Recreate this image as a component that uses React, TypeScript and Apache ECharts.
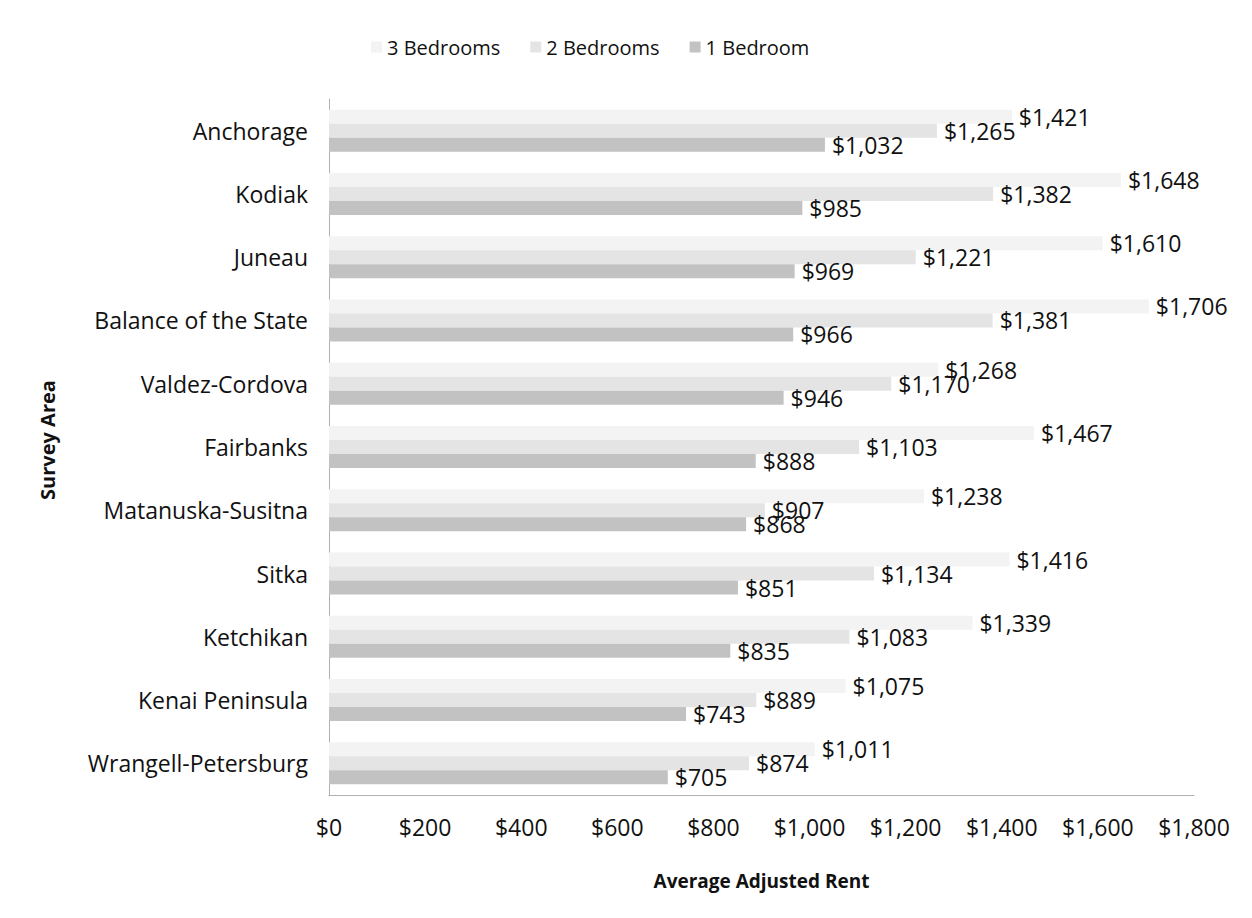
import React, { useEffect, useRef } from "react";
import * as echarts from "echarts";

const categories = [
  "Anchorage",
  "Kodiak",
  "Juneau",
  "Balance of the State",
  "Valdez-Cordova",
  "Fairbanks",
  "Matanuska-Susitna",
  "Sitka",
  "Ketchikan",
  "Kenai Peninsula",
  "Wrangell-Petersburg",
];
const threeBedrooms = [1421, 1648, 1610, 1706, 1268, 1467, 1238, 1416, 1339, 1075, 1011];
const twoBedrooms = [1265, 1382, 1221, 1381, 1170, 1103, 907, 1134, 1083, 889, 874];
const oneBedroom = [1032, 985, 969, 966, 946, 888, 868, 851, 835, 743, 705];
const seriesNames = ["3 Bedrooms", "2 Bedrooms", "1 Bedroom"];
const xTicks = [0, 200, 400, 600, 800, 1000, 1200, 1400, 1600, 1800];

const FONT = "'Open Sans', 'Noto Sans', sans-serif";
const fmt = (v: number) => "$" + v.toLocaleString("en-US");

export default function App() {
  const ref = useRef<HTMLDivElement>(null);
  useEffect(() => {
    if (!ref.current) return;
    const chart = echarts.init(ref.current, null, { renderer: "svg" });
    const colors = ["#f3f3f3", "#e4e4e4", "#c2c2c2"];
    const datasets = [threeBedrooms, twoBedrooms, oneBedroom];
    chart.setOption({
      animation: false,
      backgroundColor: "#ffffff",
      textStyle: { fontFamily: FONT },
      legend: {
        top: 32,
        left: 366,
        itemWidth: 11,
        itemHeight: 11,
        itemGap: 30,
        icon: "rect",
        textStyle: { fontSize: 20, color: "#111", fontFamily: FONT },
        data: seriesNames,
      },
      grid: { left: 329, right: 58, top: 99, bottom: 123 },
      xAxis: {
        type: "value",
        min: xTicks[0],
        max: xTicks[xTicks.length - 1],
        interval: 200,
        axisLine: { show: true, lineStyle: { color: "#b0b0b0", width: 1 } },
        axisTick: { show: false },
        splitLine: { show: false },
        axisLabel: {
          formatter: (v: number) => fmt(v),
          fontSize: 23,
          color: "#111",
          margin: 20,
          fontFamily: FONT,
        },
        name: "Average Adjusted Rent",
        nameLocation: "middle",
        nameGap: 76,
        nameTextStyle: { fontSize: 19, fontWeight: "bold", color: "#111", fontFamily: FONT },
      },
      yAxis: {
        type: "category",
        inverse: true,
        data: categories,
        axisLine: { show: true, lineStyle: { color: "#b0b0b0", width: 1 } },
        axisTick: { show: false },
        axisLabel: { fontSize: 23, color: "#111", margin: 21, fontFamily: FONT },
        name: "Survey Area",
        nameLocation: "middle",
        nameGap: 272,
        nameTextStyle: {
          fontSize: 20,
          fontWeight: "bold",
          color: "#111",
          fontFamily: FONT,
          padding: [0, 0, 0, 14],
        },
      },
      series: seriesNames.map((name, i) => ({
        name,
        type: "bar",
        data: datasets[i],
        barWidth: 14,
        barGap: "0%",
        barCategoryGap: "33%",
        itemStyle: { color: colors[i] },
        label: {
          show: true,
          position: "right",
          distance: 7,
          formatter: (p: any) => fmt(p.value),
          fontSize: 23,
          color: "#111",
          fontFamily: FONT,
        },
      })),
      graphic: [
        {
          type: "rect",
          shape: { x: 3, y: 5, width: 1260, height: 920 },
          style: { fill: "none", stroke: "#c8c8c8", lineWidth: 1, lineDash: [2, 2] },
          silent: true,
        },
      ],
    });
    return () => chart.dispose();
  }, []);
  return <div ref={ref} style={{ width: 1252, height: 918, margin: -8 }} />;
}
